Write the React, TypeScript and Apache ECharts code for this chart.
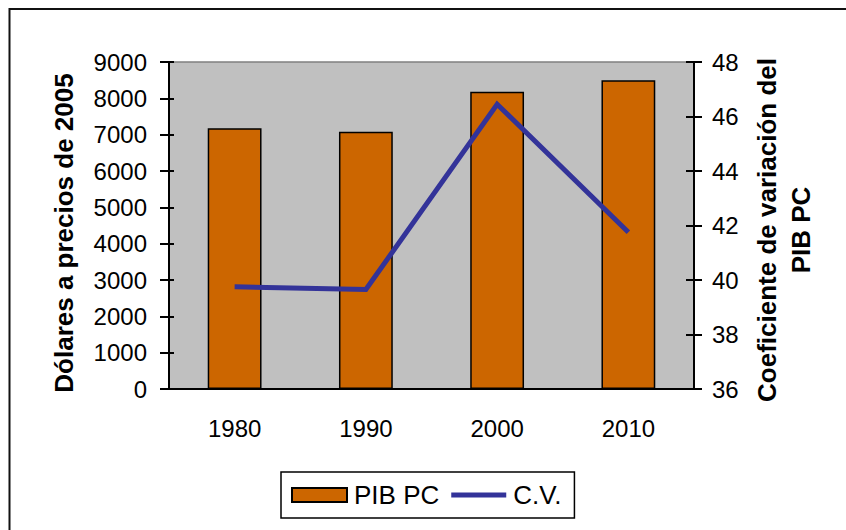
import React, { useEffect, useRef } from "react";
import * as echarts from "echarts";

const years = ["1980", "1990", "2000", "2010"];
const pibPC = [7180, 7080, 8180, 8500];
const cvValues = [39.75, 39.65, 46.45, 41.75];

const leftAxis = { min: 0, max: 9000, interval: 1000 };
const rightAxis = { min: 36, max: 48, interval: 2 };

const leftTitle = "Dólares a precios de 2005";
const rightTitle = "Coeficiente de variación del\nPIB PC";
const seriesNames = ["PIB PC", "C.V."];

const FONT = "'Liberation Sans', Arial, Helvetica, sans-serif";

export default function App() {
  const ref = useRef<HTMLDivElement>(null);

  useEffect(() => {
    if (!ref.current) return;
    const chart = echarts.init(ref.current, null, { renderer: "svg" });
    const black = "#000";
    const plain = (v: number) => String(v);
    chart.setOption({
      animation: false,
      backgroundColor: "#fff",
      textStyle: { fontFamily: FONT },
      grid: {
        left: 169,
        right: 152,
        top: 62,
        height: 327,
        show: true,
        backgroundColor: "#C0C0C0",
        borderColor: "#808080",
        borderWidth: 1.5,
      },
      legend: {
        left: 281,
        top: 472,
        orient: "horizontal",
        padding: [10, 13, 10, 10],
        itemGap: 12,
        itemWidth: 55,
        itemHeight: 14,
        borderColor: black,
        borderWidth: 1.5,
        backgroundColor: "#fff",
        textStyle: { fontSize: 26, color: black, fontFamily: FONT, padding: [0, 0, 0, 2] },
        data: [
          { name: seriesNames[0], icon: "rect" },
          { name: seriesNames[1], icon: "path://M0,0H57V5H0Z" },
        ],
      },
      xAxis: [
        {
          type: "category",
          data: years,
          position: "bottom",
          axisLine: { lineStyle: { color: black, width: 2 } },
          axisTick: { length: 9, lineStyle: { color: black, width: 2 } },
          axisLabel: { fontSize: 24, color: black, margin: 27, fontFamily: FONT },
        },
        {
          type: "category",
          data: years,
          position: "bottom",
          axisLine: { show: false },
          axisTick: { inside: true, length: 6, lineStyle: { color: black, width: 2 } },
          axisLabel: { show: false },
        },
      ],
      yAxis: [
        {
          type: "value",
          position: "left",
          ...leftAxis,
          splitLine: { show: false },
          axisLine: { show: true, lineStyle: { color: black, width: 2 } },
          axisTick: { show: true, length: 9, lineStyle: { color: black, width: 2 } },
          axisLabel: { fontSize: 24, color: black, margin: 22, fontFamily: FONT, formatter: plain },
        },
        {
          type: "value",
          position: "right",
          ...rightAxis,
          splitLine: { show: false },
          axisLine: { show: true, lineStyle: { color: black, width: 2 } },
          axisTick: { show: true, length: 8, lineStyle: { color: black, width: 2 } },
          axisLabel: { fontSize: 24, color: black, margin: 18, fontFamily: FONT, formatter: plain },
        },
        {
          type: "value",
          position: "left",
          ...leftAxis,
          splitLine: { show: false },
          axisLine: { show: false },
          axisTick: { show: true, inside: true, length: 5, lineStyle: { color: black, width: 2 } },
          axisLabel: { show: false },
        },
        {
          type: "value",
          position: "right",
          ...rightAxis,
          splitLine: { show: false },
          axisLine: { show: false },
          axisTick: { show: true, inside: true, length: 8, lineStyle: { color: black, width: 2 } },
          axisLabel: { show: false },
        },
      ],
      series: [
        {
          name: seriesNames[0],
          type: "bar",
          xAxisIndex: 0,
          yAxisIndex: 0,
          data: pibPC,
          barWidth: "41%",
          itemStyle: { color: "#CC6600", borderColor: black, borderWidth: 1.5 },
        },
        {
          name: seriesNames[1],
          type: "line",
          xAxisIndex: 0,
          yAxisIndex: 1,
          data: cvValues,
          symbol: "none",
          itemStyle: { color: "#333399" },
          lineStyle: { color: "#333399", width: 5, join: "miter", cap: "butt" },
        },
      ],
      graphic: [
        {
          type: "line",
          shape: { x1: 9.5, y1: 9, x2: 846, y2: 9 },
          style: { stroke: "#111", lineWidth: 2 },
          silent: true,
        },
        {
          type: "line",
          shape: { x1: 9.5, y1: 8, x2: 9.5, y2: 530 },
          style: { stroke: "#111", lineWidth: 2 },
          silent: true,
        },
        {
          type: "text",
          x: 64,
          y: 233,
          rotation: Math.PI / 2,
          style: {
            text: leftTitle,
            font: `bold 26px ${FONT}`,
            fill: black,
            textAlign: "center",
            textVerticalAlign: "middle",
          },
        },
        {
          type: "text",
          x: 784,
          y: 230,
          rotation: Math.PI / 2,
          style: {
            text: rightTitle,
            font: `bold 26px ${FONT}`,
            fill: black,
            lineHeight: 34,
            textAlign: "center",
            textVerticalAlign: "middle",
          },
        },
      ],
    });
    return () => chart.dispose();
  }, []);

  return (
    <div
      ref={ref}
      style={{ position: "fixed", left: 0, top: 0, width: 846, height: 530 }}
    />
  );
}
